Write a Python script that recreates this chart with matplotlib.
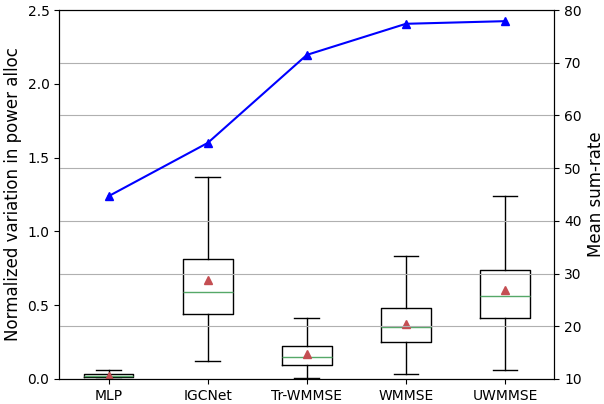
import matplotlib
matplotlib.use("Agg")
import matplotlib.pyplot as plt

methods = ['MLP', 'IGCNet', 'Tr-WMMSE', 'WMMSE', 'UWMMSE']

# box statistics (normalized variation in power alloc)
whis_lo = [0.0, 0.12, 0.005, 0.035, 0.06]
q1 = [0.01, 0.44, 0.095, 0.25, 0.41]
med = [0.02, 0.59, 0.15, 0.35, 0.56]
q3 = [0.035, 0.81, 0.22, 0.48, 0.74]
whis_hi = [0.06, 1.37, 0.41, 0.83, 1.24]
means = [0.02, 0.67, 0.17, 0.37, 0.60]

# mean sum-rate
sum_rate = [44.7, 54.8, 71.5, 77.4, 77.9]

stats = []
for i, m in enumerate(methods):
    stats.append(dict(label=m, whislo=whis_lo[i], q1=q1[i], med=med[i],
                      q3=q3[i], whishi=whis_hi[i], mean=means[i], fliers=[]))

fig, ax = plt.subplots(figsize=(6.04, 4.04), dpi=100)
fig.subplots_adjust(left=0.098, right=0.918, top=0.975, bottom=0.062)

pos = list(range(1, len(methods) + 1))
ax.bxp(stats, positions=pos, showmeans=True, widths=0.5,
       medianprops=dict(color='#55a868'),
       meanprops=dict(marker='^', markerfacecolor='#c44e52',
                      markeredgecolor='#c44e52', markersize=6))
ax.set_ylim(0, 2.5)
ax.set_xlim(0.5, 5.5)
ax.set_ylabel('Normalized variation in power alloc', fontsize=12)
ax.set_xticks(pos)
ax.set_xticklabels(methods)

ax2 = ax.twinx()
ax2.plot(pos, sum_rate, color='blue', marker='^', markersize=6)
ax2.set_ylim(10, 80)
ax2.set_ylabel('Mean sum-rate', fontsize=12)
ax2.grid(True, axis='y', color='#b0b0b0')

fig.savefig('out.png')
